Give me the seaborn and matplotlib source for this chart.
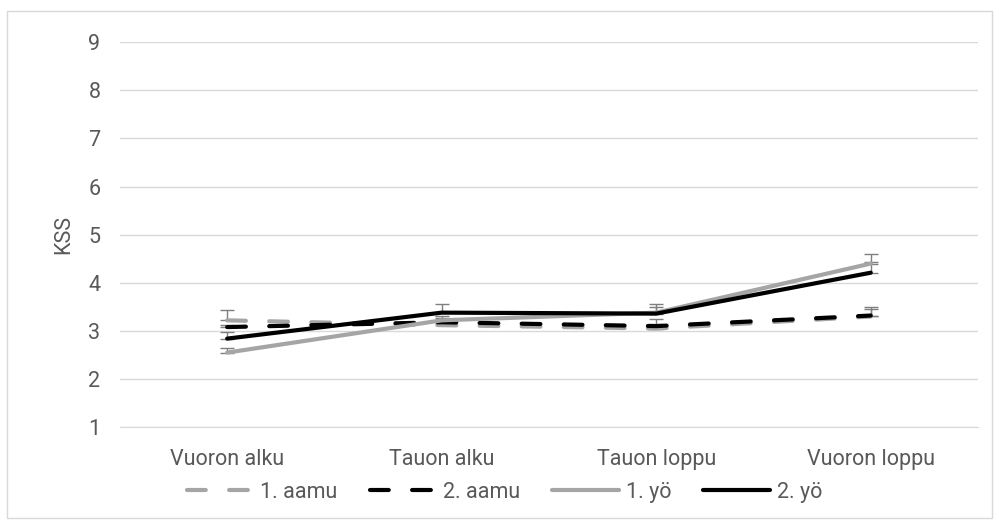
import numpy as np
import pandas as pd
import seaborn as sns
import matplotlib.pyplot as plt
from matplotlib.patches import Rectangle

# Data
phases = ["Vuoron alku", "Tauon alku", "Tauon loppu", "Vuoron loppu"]
series = ["1. aamu", "2. aamu", "1. yö", "2. yö"]
aamu1 = [3.22, 3.12, 3.05, 3.30]
aamu2 = [3.08, 3.18, 3.10, 3.32]
yo1 = [2.55, 3.22, 3.38, 4.40]
yo2 = [2.84, 3.38, 3.36, 4.21]
# plus-only error bars
err_aamu1 = [0.21, 0.08, 0.10, 0.15]
err_aamu2 = [0.05, 0.08, 0.14, 0.17]
err_yo1 = [0.09, 0.10, 0.12, 0.20]
err_yo2 = [0.13, 0.17, 0.19, 0.22]

values = [aamu1, aamu2, yo1, yo2]
errors = [err_aamu1, err_aamu2, err_yo1, err_yo2]
colors = ["#a5a5a5", "#000000", "#a5a5a5", "#000000"]
dashed = [True, True, False, False]

sns.set_style("white")
plt.rcParams['font.family'] = ['Roboto', 'DejaVu Sans']
txt = "#595959"

fig = plt.figure(figsize=(9.99, 5.28), dpi=100)
ax = fig.add_axes([0.120, 0.191, 0.859, 0.729])

# outer chart border
fig.patches.append(Rectangle((0.007, 0.019), 0.986, 0.961, transform=fig.transFigure,
                             fill=False, edgecolor="#d9d9d9", lw=1.0))

xs = np.arange(len(phases))
for name, vals, errs, col, dsh in zip(series, values, errors, colors, dashed):
    df = pd.DataFrame({"x": xs, "y": vals})
    sns.lineplot(data=df, x="x", y="y", ax=ax, color=col, lw=3.0,
                 linestyle=(0, (4.5, 5.6)) if dsh else "-", label=name,
                 solid_capstyle="round", dash_capstyle="round")
    ax.errorbar(xs, vals, yerr=[np.zeros(len(errs)), errs], fmt="none",
                ecolor="#7f7f7f", elinewidth=1.0, capsize=5, capthick=1.0, zorder=1)

ax.set_xlim(-0.5, 3.5)
ax.set_ylim(1, 9)
ax.set_yticks(range(1, 10))
ax.set_xticks(xs)
ax.set_xticklabels(phases)
ax.yaxis.grid(True, color="#d9d9d9", lw=1.0)
ax.set_axisbelow(True)
for s in ["top", "right", "left"]:
    ax.spines[s].set_visible(False)
ax.spines["bottom"].set_color("#d9d9d9")
ax.tick_params(axis="both", length=0, labelsize=15.5, colors=txt, pad=14)
ax.tick_params(axis="x", pad=16)
ax.set_xlabel("")
ax.set_ylabel("KSS", fontsize=15.5, color=txt, labelpad=10)

# legend centred in the whole chart area, like Excel
ax.legend(loc="center", bbox_to_anchor=(0.505, 0.068), bbox_transform=fig.transFigure,
          ncol=4, frameon=False, fontsize=15.5, labelcolor=txt, handlelength=3.1,
          handletextpad=0.3, columnspacing=1.5)

fig.savefig("out.png", dpi=100)
